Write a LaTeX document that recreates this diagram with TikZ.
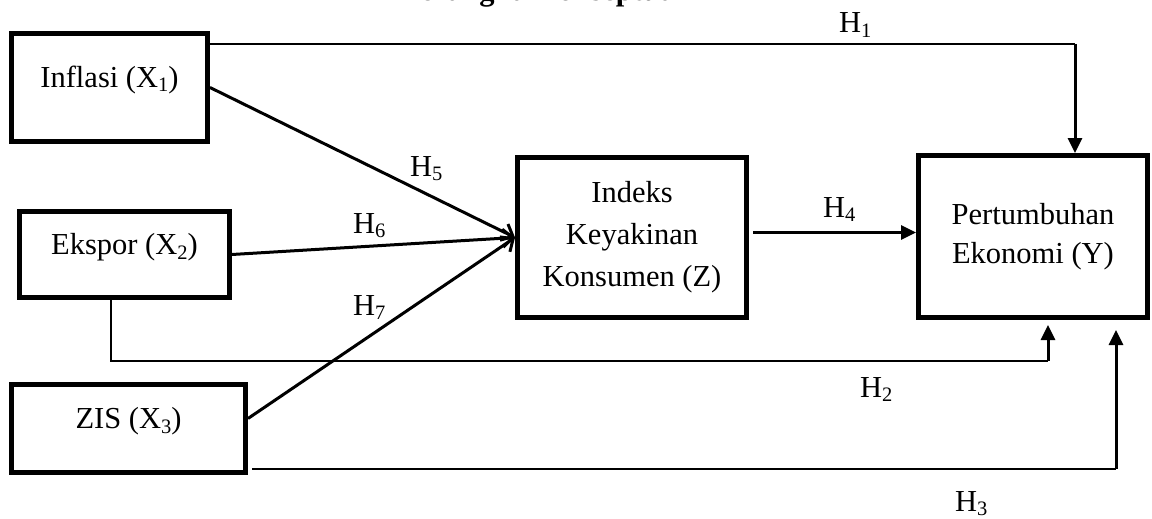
\documentclass[tikz,border=0pt]{standalone}
\usepackage{fontspec}
\setmainfont{Liberation Serif}
\usetikzlibrary{arrows.meta}
\newcommand{\mysub}[1]{\raisebox{-4.5pt}{\fontsize{20.5pt}{20.5pt}\selectfont #1}}
\begin{document}
\begin{tikzpicture}[x=1pt,y=-1pt,
  every node/.append style={font=\fontsize{30.5pt}{42pt}\selectfont},
  box/.style={draw, line width=5pt, rectangle, inner sep=0pt, align=center},
  onel/.style={text height=21pt, text depth=21pt},
  thinl/.style={line width=2pt},
  arr/.style={line width=3pt, -{Triangle[length=15pt,width=14pt]}},
  oarr/.style={line width=3pt, -{Straight Barb[length=10pt,width=18pt]}},
  hlab/.style={anchor=base west, inner sep=0pt}]
\useasboundingbox (0,0) rectangle (1152,519);
\clip (0,0) rectangle (1152,519);
\node[font=\fontsize{30.5pt}{36pt}\selectfont\bfseries, anchor=base, inner sep=0pt] (title) at (540,0.5) {Kerangka Konseptual};
% boxes
\node[box, onel, minimum width=196pt, minimum height=108pt] (X1) at (109.5,87.5) {Inflasi (X\mysub{1})};
\node[box, onel, minimum width=210pt, minimum height=86pt] (X2) at (124.5,254.5) {Ekspor (X\mysub{2})};
\node[box, onel, minimum width=234pt, minimum height=88pt] (X3) at (128.5,428.5) {ZIS (X\mysub{3})};
\node[box, minimum width=229pt, minimum height=160pt] (Z) at (632,237.5) {Indeks\\Keyakinan\\Konsumen (Z)};
\node[box, font=\fontsize{30.5pt}{39pt}\selectfont, minimum width=229pt, minimum height=162pt] (Y) at (1033,236.5) {Pertumbuhan\\Ekonomi (Y)};
% corner points
\coordinate (c1) at (1075,44);
\coordinate (c2) at (1048,361);
\coordinate (c3) at (1116,469);
% H1
\draw[thinl] ([yshift=-13pt]X1.north east) -- (c1);
\draw[arr] (c1) -- (Y.north -| c1);
% H5, H6, H7
\draw[oarr] (X1.east) -- (Z.west);
\draw[oarr] (X2.east) -- (Z.west);
\draw[oarr] ([yshift=10pt]X3.east) -- (Z.west);
% H4
\draw[arr] ([xshift=4pt,yshift=5pt]Z.east) -- ([yshift=5pt]Z.east -| Y.west);
% H2
\draw[thinl] ([xshift=-13.5pt]X2.south) |- (c2);
\draw[arr] (c2) -- ([yshift=-5pt]Y.south -| c2);
% H3
\draw[thinl] ([xshift=4pt,yshift=6pt]X3.south east) -- (c3);
\draw[arr] (c3) -- ([yshift=-10pt]Y.south -| c3);
% labels
\node[hlab] (h1) at (839,33) {H\mysub{1}};
\node[hlab] (h2) at (860,397) {H\mysub{2}};
\node[hlab] (h3) at (955,511) {H\mysub{3}};
\node[hlab] (h4) at (823,217) {H\mysub{4}};
\node[hlab] (h5) at (410,176) {H\mysub{5}};
\node[hlab] (h6) at (353,233) {H\mysub{6}};
\node[hlab] (h7) at (353,315) {H\mysub{7}};
\end{tikzpicture}
\end{document}
